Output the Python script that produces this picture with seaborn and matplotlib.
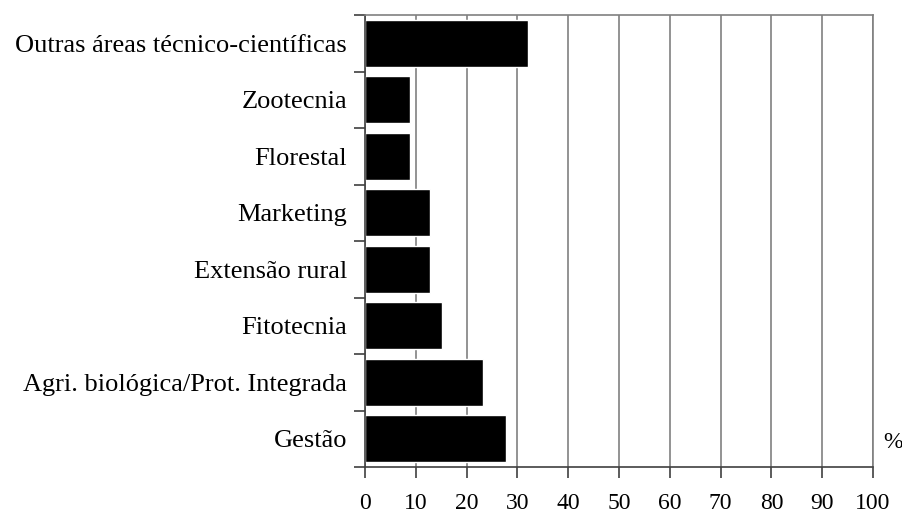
import seaborn as sns
import matplotlib.pyplot as plt
import numpy as np
import pandas as pd

# categories from top to bottom
areas = ["Outras áreas técnico-científicas", "Zootecnia", "Florestal", "Marketing",
         "Extensão rural", "Fitotecnia", "Agri. biológica/Prot. Integrada", "Gestão"]
percent = [32.0, 8.8, 8.8, 12.7, 12.7, 15.1, 23.3, 27.7]
x_ticks = [0, 10, 20, 30, 40, 50, 60, 70, 80, 90, 100]

df = pd.DataFrame({"area": areas, "pct": percent})

sns.set_style("white")
plt.rcParams['font.family'] = ['Liberation Serif', 'DejaVu Serif']
plt.rcParams['text.color'] = 'black'
plt.rcParams['xtick.labelcolor'] = 'black'
plt.rcParams['ytick.labelcolor'] = 'black'

fig = plt.figure(figsize=(9.03, 5.15), dpi=100)
ax = fig.add_axes([365 / 903, 48 / 515, 508 / 903, 452 / 515])

ax.set_axisbelow(True)
for v in x_ticks:
    ax.axvline(v, color="#808080", lw=1.2, zorder=0)

sns.barplot(data=df, x="pct", y="area", order=areas, color="black",
            width=0.83, saturation=1, ax=ax, orient="h")

ax.set_xlim(0, 100)
ax.set_ylim(len(areas) - 0.5, -0.5)
ax.set_xticks(x_ticks)
ax.set_xticklabels([str(v) for v in x_ticks], fontsize=17)
ax.set_yticks(range(len(areas)))
ax.set_yticklabels(areas, fontsize=19)
ax.set_yticks(np.arange(-0.5, len(areas)), minor=True)
ax.set_xlabel("")
ax.set_ylabel("")

ax.tick_params(axis="y", which="major", length=0, pad=13)
ax.tick_params(axis="y", which="minor", length=8, width=1.2, color="#404040", direction="out", left=True)
ax.tick_params(axis="x", which="major", length=8, width=1.2, color="#404040", direction="out", bottom=True, pad=11)

for side in ["top", "right"]:
    ax.spines[side].set_color("#808080")
    ax.spines[side].set_linewidth(1.2)
for side in ["left", "bottom"]:
    ax.spines[side].set_color("#404040")
    ax.spines[side].set_linewidth(1.2)

ax.text(1.02, 0.055, "%", transform=ax.transAxes, fontsize=17, ha="left", va="center")

fig.savefig("out.png", dpi=100)
